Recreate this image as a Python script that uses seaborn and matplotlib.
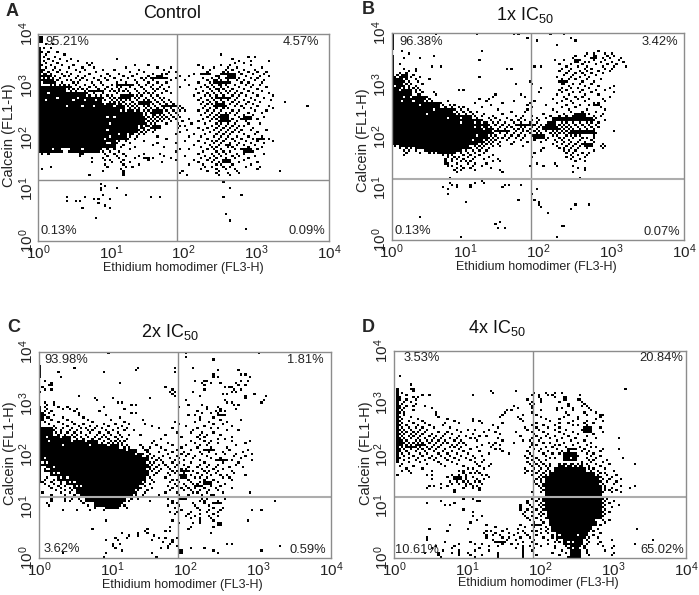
import numpy as np
import matplotlib
matplotlib.use('Agg')
import matplotlib.pyplot as plt
import seaborn as sns

# cytometer channels: 128 across x, 96 up y (4 decades on both)
N_COLS = 128
N_ROWS = 96
GATE_COL = 61
GATE_ROW = 28.5

# solid regions: (row_lo, row_hi, col_lo, col_hi)
a_blocks = [(72, 89, 0, 0), (92, 94, 0, 1), (41, 42, 0, 9), (41, 42, 14, 26), (43, 46, 0, 32), (47, 49, 0, 38),
            (50, 53, 0, 43), (54, 57, 0, 46), (58, 60, 0, 44), (61, 63, 0, 36), (64, 66, 0, 27), (67, 68, 0, 20),
            (69, 70, 0, 11), (71, 71, 0, 5)]
a_holes = [(45, [30, 31]), (48, [31]), (51, [30]), (54, [31]), (57, [30, 33]), (62, [12, 19, 24, 33]), (65, [3, 15, 20, 25]),
           (66, [8, 17]), (60, [36, 38, 42]), (42, [6, 19]), (47, [29]), (68, [4, 14, 17]), (63, [29, 34]), (49, [35])]
# (row, [cols])
a_dots = [(91, [3, 6]), (89, [2, 5]), (87, [1, 4, 8]), (86, [3, 11, 80]), (85, [2, 7, 92, 95]), (84, [4, 9, 14, 34, 85]),
          (83, [2, 6, 12, 17, 88, 93, 101]), (82, [3, 8, 21, 23, 86, 90]), (81, [1, 5, 10, 15, 22, 42, 48, 70, 80, 84, 93]),
          (80, [3, 7, 13, 19, 24, 38, 52, 58, 72, 77, 83, 87, 98]),
          (79, [1, 2, 6, 9, 16, 20, 28, 33, 44, 55, 75, 82, 85, 90, 95]),
          (78, [1, 4, 8, 12, 18, 25, 40, 46, 57, 60, 74, 81, 83, 88, 92, 96, 100]),
          (77, [2, 3, 5, 10, 14, 22, 30, 35, 43, 50, 54, 56, 68, 80, 81, 82, 86, 89, 94, 99]),
          (76, [1, 2, 3, 4, 5, 7, 11, 13, 17, 20, 27, 31, 37, 41, 48, 52, 53, 54, 62, 66, 78, 79, 83, 84, 91, 97, 101]),
          (75, [2, 4, 6, 9, 16, 19, 24, 29, 33, 39, 45, 47, 49, 51, 53, 60, 72, 76, 79, 82, 85, 88, 93, 96]),
          (74, [1, 3, 5, 8, 12, 14, 18, 21, 26, 30, 36, 42, 46, 50, 58, 64, 74, 77, 78, 80, 83, 87, 90, 95, 99]),
          (73, [2, 4, 7, 10, 15, 17, 23, 27, 34, 38, 43, 48, 52, 56, 70, 75, 78, 81, 84, 89, 92, 98]),
          (72, [5, 7, 9, 11, 13, 16, 20, 24, 28, 32, 37, 41, 44, 47, 50, 54, 66, 73, 76, 79, 80, 82, 86, 91, 94, 97]),
          (71, [6, 8, 12, 14, 18, 22, 25, 30, 34, 36, 40, 45, 49, 53, 57, 62, 71, 74, 77, 80, 83, 88, 93, 100]),
          (70, [13, 15, 17, 19, 21, 26, 29, 32, 35, 38, 42, 46, 50, 52, 55, 69, 75, 78, 79, 81, 85, 90, 96]),
          (69, [14, 16, 20, 23, 27, 31, 33, 35, 37, 39, 43, 47, 51, 56, 72, 76, 79, 82, 84, 87, 92, 98]),
          (68, [21, 24, 28, 34, 40, 44, 46, 48, 50, 54, 58, 70, 74, 77, 80, 83, 86, 89, 94, 101]),
          (67, [22, 25, 27, 30, 32, 36, 38, 41, 43, 45, 49, 52, 68, 73, 75, 78, 81, 85, 88, 91, 96, 103]),
          (66, [28, 31, 33, 35, 37, 39, 42, 44, 47, 50, 53, 55, 71, 76, 79, 82, 84, 87, 93, 99]),
          (65, [29, 32, 34, 36, 38, 40, 43, 46, 48, 51, 54, 57, 70, 74, 77, 80, 83, 86, 90, 95, 102]),
          (64, [31, 33, 35, 37, 41, 44, 46, 49, 52, 55, 58, 72, 75, 78, 81, 85, 88, 92, 97, 108]),
          (63, [38, 40, 42, 45, 47, 50, 53, 56, 59, 71, 74, 76, 79, 84, 87, 91, 94]),
          (62, [37, 39, 41, 43, 46, 48, 51, 54, 57, 60, 62, 73, 77, 80, 82, 86, 89, 96, 101, 118]),
          (61, [37, 40, 42, 44, 47, 49, 52, 55, 58, 61, 63, 72, 75, 78, 81, 83, 90, 93, 103]),
          (60, [46, 48, 50, 53, 56, 59, 62, 64, 70, 74, 77, 80, 85, 88, 95, 100]),
          (59, [45, 47, 49, 52, 54, 57, 60, 73, 76, 79, 82, 84, 87, 92, 98]),
          (58, [45, 47, 50, 51, 53, 55, 58, 61, 71, 75, 78, 80, 83, 86, 90, 94]),
          (57, [48, 50, 52, 54, 56, 59, 62, 74, 77, 79, 81, 88, 93, 99]),
          (56, [47, 49, 51, 53, 55, 57, 60, 66, 72, 76, 78, 80, 85, 89, 96]),
          (55, [48, 50, 52, 54, 58, 63, 70, 75, 79, 81, 84, 87, 91]),
          (54, [47, 49, 51, 56, 61, 67, 73, 78, 80, 83, 86, 92, 97]),
          (53, [45, 47, 48, 50, 53, 62, 64, 76, 79, 82, 85, 88, 90]),
          (52, [45, 46, 49, 52, 61, 70, 74, 78, 81, 84, 87, 94]),
          (51, [44, 46, 48, 51, 65, 72, 77, 80, 83, 86, 89, 93, 100]),
          (50, [45, 47, 50, 62, 75, 79, 82, 85, 88, 96]),
          (49, [40, 41, 44, 46, 60, 68, 73, 78, 81, 84, 90, 95]),
          (48, [40, 43, 52, 66, 71, 77, 80, 83, 87, 92, 98]),
          (47, [39, 42, 56, 74, 79, 82, 85, 89, 94, 101]),
          (46, [33, 35, 38, 46, 64, 70, 76, 78, 81, 86, 91, 96, 103]),
          (45, [33, 34, 40, 52, 60, 73, 77, 80, 84, 88, 93, 99]),
          (44, [33, 37, 50, 68, 75, 79, 82, 87, 90, 95]),
          (43, [33, 36, 42, 55, 71, 76, 78, 83, 85, 92, 98]),
          (42, [27, 30, 33, 40, 62, 66, 74, 77, 80, 86, 89, 96]),
          (41, [10, 13, 28, 31, 35, 60, 72, 78, 81, 84, 91, 94]),
          (40, [1, 4, 18, 19, 29, 33, 37, 46, 53, 70, 76, 79, 82, 87, 90, 99]),
          (39, [18, 30, 34, 38, 44, 55, 64, 73, 77, 80, 85, 88, 95]),
          (38, [23, 28, 35, 42, 50, 58, 71, 75, 78, 82, 86, 92]),
          (37, [29, 31, 37, 48, 60, 68, 74, 77, 81, 84, 90]),
          (36, [23, 32, 36, 40, 54, 70, 76, 79, 83, 88, 96]),
          (35, [29, 37, 44, 66, 72, 78, 80, 85, 93]),
          (34, [5, 30, 38, 41, 73, 76, 81, 84, 91, 97]),
          (33, [1, 36, 71, 78, 82, 86, 96]),
          (32, [28, 37, 63, 74, 79, 87, 106]),
          (31, [37, 62, 78, 83, 88]),
          (30, [22, 37, 65, 79, 84]),
          (27, [81]), (26, [27]), (25, [29]), (24, [27, 34, 84]), (23, [27]), (21, [28, 38, 89]), (20, [12, 20, 49, 53, 81]),
          (19, [24, 26, 31]), (18, [12, 16, 18]), (17, [26]), (16, [29]), (15, [19, 31]), (12, [82]), (10, [25]), (9, [84]),
          (5, [91])]
a_clumps = [(73, 73, 77, 83), (75, 77, 83, 86), (55, 58, 80, 83), (56, 57, 90, 93), (75, 75, 50, 56), (72, 72, 34, 40), (70, 71, 1, 7),
            (73, 74, 2, 6), (71, 71, 8, 14), (69, 69, 22, 28), (66, 67, 36, 40), (63, 64, 44, 48), (59, 60, 50, 54), (62, 62, 55, 60),
            (66, 66, 78, 84), (62, 63, 78, 81), (36, 37, 81, 84), (44, 44, 82, 84), (41, 42, 90, 93), (47, 47, 96, 99), (77, 77, 71, 75),
            (68, 68, 14, 19), (52, 53, 50, 53), (38, 38, 46, 48)]
a_percent = ['95.21%', '4.57%', '0.13%', '0.09%']

b_blocks = [(73, 85, 0, 0), (88, 95, 0, 0), (70, 72, 0, 3), (67, 69, 0, 7), (64, 66, 0, 13), (61, 63, 0, 19), (58, 60, 0, 26),
            (56, 57, 0, 33), (54, 55, 0, 38), (52, 53, 0, 41), (49, 51, 0, 43), (47, 48, 0, 41), (45, 46, 0, 39),
            (44, 44, 0, 36), (43, 43, 3, 32), (42, 42, 10, 32), (41, 41, 14, 30), (40, 40, 20, 27)]
b_holes = [(66, [5, 8]), (64, [4, 9]), (62, [12]), (60, [18]), (58, [15]), (56, [24, 30]), (54, [30, 36]), (51, [40]), (48, [37]), (46, [35]),
           (52, [36, 39]), (69, [3]), (71, [1])]
b_dots = [(95, [19, 37, 53, 55, 69, 75]), (93, [59, 78]), (92, [63, 80]), (90, [72]), (87, [4, 39, 90]), (86, [7, 85, 88, 93, 96]),
          (85, [18, 80, 84, 89, 94, 97]), (84, [5, 12, 79, 87, 92, 95, 100]), (83, [38, 71, 75, 82, 88, 93, 99]),
          (82, [80, 84, 86, 91, 96, 101]), (81, [3, 73, 78, 83, 89, 94, 98]), (80, [17, 21, 62, 65, 76, 81, 85, 92, 97, 102]),
          (79, [5, 10, 50, 52, 74, 78, 84, 87, 93, 96]), (78, [7, 10, 73, 77, 82, 85, 90, 95]),
          (77, [3, 6, 76, 80, 83, 87, 92]), (76, [2, 5, 9, 75, 79, 84, 89]), (75, [1, 3, 8, 12, 38, 72, 78, 82, 86]),
          (74, [2, 4, 6, 10, 16, 74, 77, 80, 85, 91]), (73, [1, 3, 5, 7, 11, 60, 73, 76, 83, 88]),
          (72, [4, 6, 8, 13, 54, 61, 75, 79, 82, 87]), (71, [4, 5, 7, 10, 77, 84, 90, 97]),
          (70, [5, 7, 9, 11, 65, 74, 78, 81, 86, 95]), (69, [8, 10, 12, 29, 31, 73, 76, 83, 89, 93]),
          (68, [8, 10, 13, 18, 64, 74, 79, 82, 87, 97]), (67, [8, 11, 12, 19, 45, 56, 72, 77, 84, 90]),
          (66, [14, 15, 44, 58, 75, 80, 83, 95]), (65, [14, 16, 38, 42, 70, 76, 81, 86, 92]),
          (64, [15, 17, 24, 41, 53, 62, 74, 78, 84, 93]), (63, [20, 21, 36, 48, 60, 72, 79, 88, 90]),
          (62, [20, 22, 25, 27, 43, 59, 67, 76, 82, 86]), (61, [20, 23, 26, 29, 31, 39, 61, 74, 80, 91]),
          (60, [27, 30, 33, 46, 59, 70, 77, 85, 93]), (59, [28, 31, 34, 37, 52, 58, 72, 78, 83, 89]),
          (58, [27, 29, 32, 35, 40, 48, 66, 75, 80, 86, 92]),
          (57, [34, 36, 39, 44, 54, 57, 61, 69, 73, 76, 79, 82, 84, 88, 91]),
          (56, [34, 37, 42, 45, 50, 56, 63, 67, 71, 74, 77, 80, 83, 85, 87, 89]),
          (55, [39, 43, 47, 52, 55, 58, 61, 64, 70, 72, 75, 78, 81, 84, 86, 88, 93]),
          (54, [40, 41, 44, 46, 49, 53, 56, 60, 63, 68, 71, 74, 76, 79, 82, 85, 87, 90]),
          (53, [42, 45, 48, 51, 54, 57, 59, 62, 65, 67, 73, 75, 77, 80, 83, 86, 89]),
          (52, [43, 47, 50, 52, 56, 58, 61, 64, 66, 69, 72, 74, 76, 78, 81, 84, 87, 90]),
          (51, [44, 46, 49, 53, 55, 57, 60, 63, 66, 68, 71, 73, 75, 77, 79, 82, 85, 88]),
          (50, [45, 48, 51, 54, 57, 59, 62, 64, 67, 70, 72, 74, 76, 78, 80, 83, 86, 97]),
          (49, [44, 47, 50, 53, 56, 60, 63, 65, 69, 71, 73, 75, 77, 81, 84, 87, 89]),
          (48, [43, 45, 49, 52, 55, 58, 61, 66, 70, 72, 76, 78, 80, 82, 88]),
          (47, [42, 44, 46, 48, 51, 54, 57, 64, 68, 73, 75, 79, 83, 85, 88]),
          (46, [41, 43, 45, 50, 56, 62, 67, 71, 74, 77, 82, 87]),
          (45, [40, 42, 44, 47, 53, 59, 65, 72, 75, 78, 81, 84, 88]),
          (44, [37, 39, 41, 43, 46, 52, 70, 74, 77, 80, 83, 86, 92]),
          (43, [1, 33, 36, 38, 40, 44, 47, 57, 72, 76, 79, 82, 91, 93]),
          (42, [3, 6, 8, 33, 34, 37, 39, 42, 66, 73, 75, 78, 81, 85, 92]),
          (41, [5, 7, 10, 32, 35, 38, 41, 65, 75, 77, 80, 88]),
          (40, [6, 12, 16, 18, 30, 33, 36, 40, 62, 76, 79, 83, 86]),
          (39, [5, 22, 24, 26, 31, 34, 38, 44, 78, 81, 85]),
          (38, [24, 27, 29, 33, 36, 42, 61, 76, 79, 84]),
          (37, [23, 26, 28, 31, 35, 40, 46, 78, 82]),
          (36, [23, 26, 30, 32, 34, 44, 47, 80, 84]),
          (35, [23, 24, 28, 33, 36, 41, 63, 71]),
          (34, [24, 26, 30, 35, 39, 60, 66, 72, 79]),
          (33, [28, 31, 34, 43, 81, 84]),
          (32, [27, 30, 36, 47, 84]),
          (31, [28, 48, 79]),
          (28, [25, 82]), (27, [39]), (26, [25, 36, 40]), (25, [26, 28, 34, 49, 51, 56]), (24, [22, 28, 34, 48]),
          (23, [24, 63]), (21, [24, 61]), (18, [55, 62]), (17, [32, 64]), (16, [64, 80, 86]), (15, [65]), (14, [78]), (12, [68]),
          (10, [12]), (8, [47]), (7, [45]), (6, [74, 75]), (5, [46, 49]), (1, [30, 72])]
b_clumps = [(55, 56, 70, 87), (53, 53, 54, 62), (51, 52, 66, 72), (50, 50, 45, 50), (84, 85, 88, 89), (82, 83, 80, 81), (75, 76, 4, 6),
            (73, 74, 1, 4), (72, 73, 74, 75), (49, 50, 78, 88), (43, 44, 84, 87), (62, 62, 88, 90), (47, 48, 62, 66), (57, 58, 80, 84),
            (53, 54, 68, 71)]
b_percent = ['96.38%', '3.42%', '0.13%', '0.07%']

c_blocks = [(84, 89, 0, 0), (35, 70, 0, 0), (64, 67, 0, 1), (57, 60, 0, 5), (55, 56, 0, 12), (53, 54, 0, 24), (51, 52, 0, 33),
            (49, 50, 0, 41), (47, 48, 0, 44), (43, 46, 0, 46), (40, 42, 2, 46), (38, 39, 5, 46), (36, 37, 8, 45), (34, 35, 12, 44),
            (32, 33, 15, 43), (30, 31, 16, 41), (28, 29, 18, 40), (26, 27, 20, 37), (24, 25, 24, 35), (23, 23, 29, 33)]
c_holes = [(56, [3, 9]), (54, [4, 14, 20]), (52, [10, 22, 30]), (50, [38]), (48, [42]), (41, [3, 4]), (39, [6, 8]), (37, [9, 12]), (35, [13, 15]),
           (33, [16, 18]), (44, [1, 3]), (42, [2, 6]), (46, [2])]
c_dots = [(95, [30, 64, 96]), (93, [64]), (92, [76]), (88, [15, 43, 59, 67]), (87, [42, 78, 87]), (86, [8, 28, 59]), (85, [76, 88, 90]),
          (84, [9, 76, 78, 92]), (82, [2, 68, 72, 73, 88, 91]), (81, [5, 35, 71, 75, 79, 86]), (80, [5, 4, 72, 90, 87]),
          (79, [1, 55, 84, 83, 81]), (78, [2, 5, 58, 72, 85, 88]), (77, [0, 67, 57, 59, 84, 86]), (76, [58, 80, 82, 94]),
          (75, [17, 59, 70, 90, 99]), (74, [24, 32, 48, 90]), (73, [25, 64, 81, 98]), (72, [2, 6, 34, 36, 82, 84, 97]),
          (71, [3, 6, 40, 42, 65, 71, 87, 85]), (70, [2, 8, 12, 28, 61, 73, 78]), (69, [3, 10, 13, 16, 37, 73, 79, 86]),
          (68, [2, 5, 15, 26, 69, 77, 79, 81]), (67, [4, 17, 40, 42, 71, 75, 78]), (66, [2, 6, 17, 29, 65, 68, 80]),
          (65, [3, 4, 10, 19, 35, 70, 76]), (64, [5, 12, 21, 31, 45, 70, 79, 88]), (63, [2, 8, 14, 23, 37, 59, 68, 74, 82]),
          (62, [4, 10, 15, 19, 28, 33, 39, 46, 61, 76, 80]), (61, [6, 12, 17, 22, 25, 30, 36, 49, 64, 72, 84]),
          (60, [7, 10, 14, 18, 20, 24, 27, 34, 38, 52, 58, 69, 75, 78]), (59, [6, 9, 13, 16, 21, 23, 29, 32, 37, 41, 67, 82, 87]),
          (58, [7, 9, 12, 15, 18, 22, 26, 30, 34, 60, 66, 71, 76]), (57, [8, 11, 14, 16, 20, 25, 28, 31, 35, 39, 44, 55, 70, 73, 79]),
          (56, [13, 15, 18, 21, 24, 27, 29, 33, 36, 62, 69, 72, 84]), (55, [13, 16, 19, 23, 26, 30, 34, 38, 53, 70, 78, 81]),
          (54, [25, 28, 31, 33, 35, 37, 50, 66, 72, 75, 84, 92]), (53, [25, 27, 30, 32, 34, 36, 49, 56, 68, 74, 78, 90]),
          (52, [34, 36, 38, 44, 51, 58, 64, 70, 73, 86]), (51, [34, 37, 39, 45, 48, 53, 62, 69, 75, 82]),
          (50, [42, 46, 47, 55, 60, 66, 72, 76, 83, 91]), (49, [42, 47, 52, 58, 63, 70, 74, 80, 89]),
          (48, [45, 48, 56, 62, 65, 71, 77, 81, 86, 93]), (47, [47, 50, 54, 60, 64, 68, 73, 85, 90]),
          (46, [47, 49, 52, 57, 61, 67, 75, 79, 88]), (45, [47, 51, 53, 59, 63, 70, 77, 84, 93]),
          (44, [48, 50, 54, 58, 61, 66, 72, 80, 87]), (43, [47, 49, 52, 55, 60, 63, 70, 74, 78, 86]),
          (42, [47, 48, 51, 56, 59, 65, 69, 73, 77, 83, 89]), (41, [48, 50, 53, 57, 62, 64, 71, 76, 80]),
          (40, [47, 49, 52, 58, 60, 67, 72, 74, 78, 84]), (39, [47, 51, 56, 59, 63, 69, 73, 77, 85]),
          (38, [47, 50, 57, 61, 66, 71, 75, 79, 82, 90]), (37, [3, 46, 48, 55, 62, 68, 70, 73, 80, 83]),
          (36, [2, 6, 46, 49, 58, 60, 65, 72, 76, 84]), (35, [1, 5, 9, 46, 50, 57, 61, 66, 70, 74, 78]),
          (34, [2, 6, 9, 45, 48, 59, 63, 67, 69, 73, 81]), (33, [4, 8, 11, 46, 56, 60, 64, 71, 75, 79]),
          (32, [5, 9, 13, 44, 49, 58, 62, 65, 68, 72, 77, 84]), (31, [7, 11, 14, 43, 47, 57, 63, 66, 70, 74, 78]),
          (30, [1, 9, 13, 42, 46, 55, 60, 67, 69, 73, 80, 92]), (29, [5, 11, 15, 42, 45, 52, 61, 65, 71, 75, 76]),
          (27, [5, 11, 14, 17, 40, 43, 56, 64, 71, 73, 81]), (26, [5, 11, 13, 18, 39, 48, 58, 70, 72, 78, 103]),
          (25, [3, 19, 36, 58, 60, 67, 72, 78]), (24, [4, 21, 37, 56, 61, 68, 74]), (23, [24, 34, 38, 59, 69, 76, 80]),
          (22, [10, 16, 22, 28, 62, 70, 74, 79, 93, 97]), (21, [57, 60, 66, 73, 78]), (20, [59, 65, 70, 76]),
          (19, [64, 68, 74, 78]), (18, [66, 70, 75]), (17, [29, 58, 70, 76, 91]), (16, [61, 67, 70]), (14, [57, 66, 76]), (13, [23, 47, 65]),
          (12, [46, 55, 57]), (11, [36, 43, 47, 75]), (10, [39, 43, 50]), (9, [33, 38, 60, 55, 52]), (8, [34, 58, 49, 29]),
          (7, [58, 54]), (6, [32, 35, 57, 82, 84]), (5, [32, 56, 60, 105]), (4, [33, 53, 56, 66, 72]), (3, [36, 61, 62, 76, 97]),
          (2, [29, 10, 49, 61, 62, 78]), (0, [51, 28])]
c_clumps = [(27, 27, 61, 64), (34, 35, 72, 75), (33, 33, 68, 71), (45, 45, 78, 82), (66, 66, 78, 81), (15, 16, 78, 79), (40, 40, 62, 65),
            (37, 38, 62, 64), (50, 50, 72, 75), (25, 25, 76, 79)]
c_percent = ['93.98%', '1.81%', '3.62%', '0.59%']

d_blocks = [(44, 78, 1, 1), (40, 41, 70, 83), (38, 39, 68, 87), (34, 37, 66, 89), (22, 33, 66, 90), (18, 21, 67, 90),
            (15, 17, 68, 87), (12, 14, 69, 85), (9, 11, 71, 83), (6, 8, 74, 82), (0, 5, 77, 81), (45, 46, 74, 79), (42, 43, 72, 82)]
d_holes = [(10, [72, 80]), (7, [76, 78]), (4, [78, 81]), (43, [73, 76, 79, 81]), (42, [75, 78, 80]), (46, [77])]
d_dots = [(84, [2]), (80, [7]), (78, [7, 8, 101]), (77, [8, 42, 53]), (76, [3, 43, 61, 66, 70, 73]), (75, [5, 12, 15, 34, 60, 63, 67, 69, 81]),
          (74, [2, 8, 10, 63, 70]), (73, [2, 5, 9, 64, 80, 81, 58]), (72, [4, 7, 72, 82, 60, 64]), (71, [3, 9, 59, 61, 76, 83]),
          (70, [2, 5, 8, 13, 52, 60, 76, 82, 84]), (69, [2, 4, 16, 54, 60, 71, 73, 78, 85]), (68, [3, 8, 49, 51, 64, 71, 78, 86]),
          (67, [2, 4, 18, 48, 60, 75, 83, 88]), (66, [4, 18, 47, 56, 62, 76, 84, 90, 91]), (65, [2, 7, 19, 46, 54, 64, 74, 80, 90]),
          (64, [3, 10, 23, 34, 55, 66, 72, 80, 88]), (63, [2, 6, 12, 26, 34, 37, 56, 68, 78, 84, 91]),
          (62, [3, 8, 13, 22, 28, 38, 47, 62, 72, 76, 83, 87]), (61, [2, 5, 10, 15, 21, 43, 60, 65, 70, 78, 80, 84]),
          (60, [3, 6, 9, 12, 17, 24, 45, 57, 62, 67, 72, 83, 86, 90]), (59, [2, 4, 7, 11, 14, 27, 32, 35, 41, 58, 63, 70, 75, 82, 85]),
          (58, [3, 5, 8, 10, 13, 19, 23, 29, 39, 44, 53, 60, 65, 72, 78, 83, 91]), (57, [2, 4, 7, 9, 12, 16, 22, 25, 34, 46, 61, 67, 74, 80, 87]),
          (56, [3, 6, 8, 11, 15, 18, 21, 28, 31, 37, 40, 55, 62, 66, 70, 76, 84]),
          (55, [2, 4, 7, 10, 13, 17, 20, 24, 27, 33, 35, 45, 60, 64, 68, 73, 79, 88, 98]),
          (54, [2, 3, 5, 9, 11, 14, 16, 19, 22, 26, 29, 36, 47, 56, 59, 63, 71, 77, 83]),
          (53, [2, 4, 6, 8, 10, 12, 15, 18, 21, 23, 28, 30, 41, 44, 52, 60, 65, 68, 74, 80, 86]),
          (52, [2, 3, 5, 7, 9, 13, 17, 20, 25, 27, 31, 38, 43, 46, 60, 62, 70, 72, 78, 84]),
          (51, [3, 6, 8, 11, 14, 16, 19, 24, 26, 29, 36, 42, 59, 66, 69, 75, 81, 86, 88]),
          (50, [2, 4, 7, 10, 12, 15, 18, 22, 28, 33, 44, 46, 61, 64, 71, 77, 79, 83, 91, 98]),
          (49, [2, 5, 9, 13, 17, 21, 25, 30, 37, 47, 58, 63, 67, 73, 76, 82, 85, 90]),
          (48, [3, 6, 11, 14, 19, 23, 27, 32, 41, 50, 59, 65, 69, 72, 78, 84, 87]),
          (47, [4, 8, 12, 16, 20, 24, 29, 34, 38, 57, 60, 66, 74, 80, 86, 90]),
          (46, [2, 6, 10, 15, 18, 22, 26, 31, 35, 58, 62, 68, 70, 84, 88, 100]),
          (45, [4, 9, 13, 17, 23, 28, 33, 39, 60, 63, 66, 85, 87, 93]), (44, [6, 11, 19, 25, 35, 38, 58, 61, 64, 82, 86, 91]),
          (43, [3, 14, 20, 27, 36, 42, 59, 62, 65, 68, 84, 88, 94, 105]), (42, [2, 8, 22, 30, 37, 41, 60, 63, 66, 68, 85, 90]),
          (41, [5, 12, 32, 34, 39, 57, 61, 64, 67, 85, 87, 92]), (40, [3, 6, 16, 28, 30, 36, 58, 60, 63, 66, 68, 86, 89, 96]),
          (39, [7, 30, 33, 35, 37, 57, 62, 65, 90, 92]), (38, [1, 14, 16, 25, 28, 31, 38, 40, 60, 64, 66, 89, 93, 97]),
          (37, [23, 27, 29, 31, 34, 41, 63, 65, 90, 95]), (36, [16, 26, 29, 31, 36, 39, 62, 64, 91, 94, 99]),
          (35, [24, 27, 30, 32, 35, 37, 61, 64, 90, 93, 97]), (34, [20, 25, 28, 31, 33, 38, 62, 65, 91, 96]),
          (33, [15, 17, 23, 31, 34, 36, 63, 65, 92, 99, 105]), (32, [14, 20, 30, 34, 37, 64, 92, 95, 103]),
          (31, [26, 37, 65, 92, 94, 97]), (30, [26, 60, 64, 91, 95, 99]), (27, [30, 34, 60, 63, 65, 91, 93]),
          (26, [20, 36, 37, 58, 62, 65, 92, 96]), (25, [14, 26, 58, 64, 91, 94]), (24, [22, 24, 55, 59, 63, 65, 92, 98]),
          (23, [55, 60, 64, 91, 95]), (22, [30, 55, 58, 62, 65, 92]), (21, [34, 57, 60, 64, 91, 94]),
          (20, [56, 63, 65, 92]), (19, [34, 38, 57, 60, 64, 91]), (18, [58, 62, 66, 90]), (17, [36, 59, 64, 91, 94]),
          (16, [33, 61, 65, 88, 92]), (15, [24, 40, 55, 60, 64, 88, 90]), (14, [44, 57, 61, 66, 86]),
          (13, [15, 32, 49, 54, 64, 67, 86, 89, 106]), (12, [23, 40, 42, 47, 56, 60, 62, 66, 85, 87]),
          (11, [39, 44, 50, 54, 57, 64, 67, 84, 90]), (10, [40, 43, 46, 52, 58, 62, 69, 84, 87]),
          (9, [14, 40, 47, 50, 55, 59, 65, 69, 85, 89]), (8, [14, 43, 49, 53, 61, 67, 71, 84, 95, 113]),
          (7, [22, 33, 44, 46, 48, 56, 60, 70, 72, 85, 90]), (6, [28, 35, 38, 47, 51, 54, 62, 67, 84, 89, 105]),
          (5, [18, 26, 41, 45, 56, 59, 64, 70, 75, 83, 91, 96]), (4, [16, 25, 37, 53, 56, 61, 70, 76, 83, 95]),
          (3, [21, 28, 35, 41, 56, 60, 73, 84, 92]), (2, [13, 19, 25, 28, 32, 45, 56, 69, 75, 84, 96]),
          (1, [19, 28, 33, 38, 45, 56, 62, 72, 85, 95]), (0, [20, 35, 45, 56, 76])]
d_clumps = [(58, 60, 83, 86), (52, 53, 2, 3), (51, 51, 5, 9), (52, 52, 10, 13), (36, 37, 26, 28), (73, 74, 74, 75), (47, 48, 74, 79),
            (50, 50, 76, 79), (7, 7, 44, 47), (15, 15, 60, 63)]
d_percent = ['3.53%', '20.84%', '10.61%', '65.02%']

titles = ['Control', r'1x IC$_{50}$', r'2x IC$_{50}$', r'4x IC$_{50}$']
letters = ['A', 'B', 'C', 'D']
tick_labels = [r'$10^{0}$', r'$10^{1}$', r'$10^{2}$', r'$10^{3}$', r'$10^{4}$']
tick_channels = [0, 32, 64, 96, 128]


def build_grid(blocks, holes, dots, clumps):
    grid = np.zeros((N_ROWS, N_COLS), dtype=int)
    for row_lo, row_hi, col_lo, col_hi in blocks:
        grid[row_lo:row_hi + 1, col_lo:col_hi + 1] = 1
    for row, cols in holes:
        grid[row, cols] = 0
    for row, cols in dots:
        grid[row, cols] = 1
    for row_lo, row_hi, col_lo, col_hi in clumps:
        grid[row_lo:row_hi + 1, col_lo:col_hi + 1] = 1
    return grid


sns.set_style('white')
plt.rcParams['font.family'] = ['Liberation Sans', 'DejaVu Sans']
plt.rcParams['mathtext.default'] = 'regular'

W, H = 699, 595
fig = plt.figure(figsize=(W / 100, H / 100), dpi=100)

# pixel layout of the four panels: left, top, right, bottom
boxes = [(38.3, 34, 329, 241), (391.7, 33, 684, 240), (39, 352, 331, 558), (394, 351, 686, 558)]
title_xy = [(172, 14), (525, 15), (170, 332), (497, 328)]
letter_xy = [(6, 12), (362, 10), (7, 327), (362, 328)]
xlabel_xy = [(183, 268), (536, 267), (182, 585), (538, 583)]
ylabel_xy = [(9, 135), (363, 140), (10, 453), (366, 453)]
pct_xy = [[(.023, .96), (.965, .96), (.008, .048), (.988, .048)],
          [(.026, .956), (.98, .956), (.009, .044), (.987, .04)],
          [(.019, .96), (.975, .96), (.016, .042), (.983, .037)],
          [(.034, .966), (.989, .966), (.002, .04), (.995, .037)]]
hline_style = [('#8c8c8c', 1), ('#adadad', 1.5), ('#adadad', 1.5), ('#adadad', 1.5)]

panels = [(a_blocks, a_holes, a_dots, a_clumps, a_percent), (b_blocks, b_holes, b_dots, b_clumps, b_percent),
          (c_blocks, c_holes, c_dots, c_clumps, c_percent), (d_blocks, d_holes, d_dots, d_clumps, d_percent)]

for i, (blocks, holes, dots, clumps, percent) in enumerate(panels):
    left, top, right, bottom = boxes[i]
    ax = fig.add_axes([left / W, 1 - bottom / H, (right - left) / W, (bottom - top) / H])
    grid = build_grid(blocks, holes, dots, clumps)
    sns.heatmap(grid, cmap=['white', 'black'], vmin=0, vmax=1, cbar=False, ax=ax, square=False)
    ax.set_xlim(0, N_COLS)
    ax.set_ylim(0, N_ROWS)

    ax.axvline(GATE_COL, color='#8c8c8c', lw=1)
    ax.axhline(GATE_ROW, color=hline_style[i][0], lw=hline_style[i][1])
    for spine in ax.spines.values():
        spine.set_visible(True)
        spine.set_color('#8c8c8c')
        spine.set_linewidth(1)

    ax.set_xticks(tick_channels)
    ax.set_xticklabels(tick_labels, rotation=0, fontsize=11, color='#222222')
    ax.set_yticks(np.array(tick_channels) * 0.75)
    ax.set_yticklabels(tick_labels, rotation=90, va='center', fontsize=11, color='#222222')
    ax.tick_params(length=0, pad=2)
    ax.set_xlabel('')
    ax.set_ylabel('')

    for (px, py), txt in zip(pct_xy[i], percent):
        ha = 'left' if px < 0.5 else 'right'
        ax.text(px, py, txt, transform=ax.transAxes, ha=ha, va='center', fontsize=9.3, color='#222222')

    fig.text(title_xy[i][0] / W, 1 - title_xy[i][1] / H, titles[i], ha='center', va='center', fontsize=13, color='#111111')
    fig.text(letter_xy[i][0] / W, 1 - letter_xy[i][1] / H, letters[i], ha='left', va='center', fontsize=13, fontweight='bold')
    fig.text(xlabel_xy[i][0] / W, 1 - xlabel_xy[i][1] / H, 'Ethidium homodimer (FL3-H)', ha='center', va='center', fontsize=9, color='#222222')
    fig.text(ylabel_xy[i][0] / W, 1 - ylabel_xy[i][1] / H, 'Calcein (FL1-H)', ha='center', va='center', rotation=90, fontsize=10.5, color='#222222')

fig.savefig('out.png', dpi=100)
